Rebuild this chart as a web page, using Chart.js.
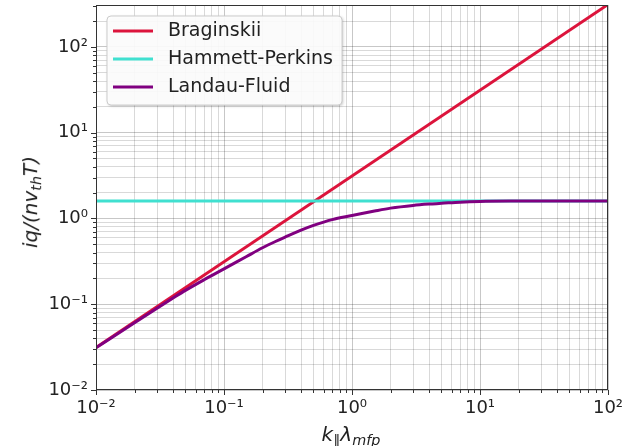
<!DOCTYPE html>
<html lang="en">
<head>
  <meta charset="UTF-8">
  <title>Heat flux closures</title>
  <style>
    body {
      margin: 0;
      background: #fff;
      font-family: 'DejaVu Sans', sans-serif;
    }

    #wrap {
      position: relative;
      width: 628px;
      height: 446px;
    }

    .axis-title {
      position: absolute;
      font-size: 20px;
      font-style: italic;
      color: #222;
      white-space: nowrap;
      line-height: 1;
    }

    .axis-title sub {
      font-size: 72%;
      vertical-align: -0.3em;
    }

    #xTitle {
      left: 351px;
      top: 436px;
      transform: translate(-50%, -50%);
    }

    #yTitle {
      left: 32px;
      top: 202px;
      transform: translate(-50%, -50%) rotate(-90deg);
    }
  </style>
</head>
<body>
  <div id="wrap">
    <canvas id="fluxChart" width="628" height="446"></canvas>
    <div id="xTitle" class="axis-title">k<sub>∥</sub>λ<sub>mfp</sub></div>
    <div id="yTitle" class="axis-title">iq/(nv<sub>th</sub>T)</div>
  </div>

  <script src="https://cdn.jsdelivr.net/npm/chart.js"></script>
  <script>
    // values (k_par * lambda_mfp on x)
    const braginskiiX = [0.01, 100];
    const braginskiiY = [0.0312, 312];

    const hammettX = [0.01, 100];
    const hammettY = [1.6, 1.6];

    const landauX = [0.01, 0.02, 0.03, 0.04, 0.05, 0.07, 0.1, 0.15, 0.2, 0.25, 0.3, 0.4, 0.5, 0.7, 1, 1.5, 2, 3, 4, 5, 7, 10, 20, 50, 100];
    const landauY = [0.031, 0.061, 0.09, 0.118, 0.145, 0.193, 0.258, 0.36, 0.455, 0.535, 0.605, 0.73, 0.83, 0.97, 1.08, 1.22, 1.32, 1.42, 1.47, 1.5, 1.55, 1.58, 1.595, 1.6, 1.6];

    const seriesNames = ['Braginskii', 'Hammett-Perkins', 'Landau-Fluid'];
    const seriesColors = ['#DC143C', '#40E0D0', '#800080'];

    const xRange = [0.01, 100];
    const yRange = [0.01, 308];

    const supMap = { '-': '⁻', '0': '⁰', '1': '¹', '2': '²', '3': '³', '4': '⁴', '5': '⁵', '6': '⁶', '7': '⁷', '8': '⁸', '9': '⁹' };

    function isDecade(v) {
      const e = Math.round(Math.log10(v));
      return Math.abs(v - Math.pow(10, e)) / v < 1e-6;
    }

    function decadeLabel(v) {
      if (!isDecade(v)) return '';
      const e = String(Math.round(Math.log10(v)));
      return '10' + e.split('').map(c => supMap[c]).join('');
    }

    function logTicks(min, max) {
      const out = [];
      for (let e = Math.floor(Math.log10(min)); e <= Math.ceil(Math.log10(max)); e++) {
        for (let m = 1; m <= 9; m++) {
          const v = m * Math.pow(10, e);
          if (v >= min * 0.999 && v <= max * 1.001) out.push({ value: v });
        }
      }
      return out;
    }

    function toPoints(xs, ys) {
      return xs.map((x, i) => ({ x: x, y: ys[i] }));
    }

    const legendBox = {
      id: 'legendBox',
      afterDatasetsDraw(chart) {
        const ctx = chart.ctx;
        ctx.save();
        ctx.shadowColor = 'rgba(0,0,0,0.25)';
        ctx.shadowBlur = 3;
        ctx.shadowOffsetX = 1;
        ctx.shadowOffsetY = 1;
        ctx.beginPath();
        ctx.roundRect(107, 16, 235, 89, 4);
        ctx.fillStyle = 'rgba(255,255,255,0.92)';
        ctx.fill();
        ctx.shadowColor = 'transparent';
        ctx.strokeStyle = '#cccccc';
        ctx.lineWidth = 1;
        ctx.stroke();

        ctx.font = '19px "DejaVu Sans"';
        ctx.textBaseline = 'middle';
        ctx.fillStyle = '#222';
        seriesNames.forEach((name, i) => {
          const y = 31 + i * 28;
          ctx.beginPath();
          ctx.moveTo(113, y);
          ctx.lineTo(153, y);
          ctx.strokeStyle = seriesColors[i];
          ctx.lineWidth = 3;
          ctx.stroke();
          ctx.fillText(name, 168, y);
        });
        ctx.restore();
      }
    };

    const frame = {
      id: 'frame',
      afterDraw(chart) {
        const { ctx, chartArea: a, scales } = chart;
        ctx.save();
        ctx.strokeStyle = '#333';
        ctx.lineWidth = 1;
        ctx.strokeRect(a.left + 0.5, a.top + 0.5, a.right - a.left - 1, a.bottom - a.top - 1);
        ctx.beginPath();
        scales.x.ticks.forEach(t => {
          const px = Math.round(scales.x.getPixelForValue(t.value)) + 0.5;
          const len = isDecade(t.value) ? 5 : 3;
          ctx.moveTo(px, a.bottom);
          ctx.lineTo(px, a.bottom + len);
        });
        scales.y.ticks.forEach(t => {
          const py = Math.round(scales.y.getPixelForValue(t.value)) + 0.5;
          const len = isDecade(t.value) ? 5 : 3;
          ctx.moveTo(a.left, py);
          ctx.lineTo(a.left - len, py);
        });
        ctx.stroke();
        ctx.restore();
      }
    };

    const gridColor = (c) => (c.tick && isDecade(c.tick.value)) ? 'rgba(0,0,0,0.22)' : 'rgba(0,0,0,0.15)';

    const config = {
      type: 'line',
      data: {
        datasets: [
          { label: seriesNames[0], data: toPoints(braginskiiX, braginskiiY), borderColor: seriesColors[0], order: 3 },
          { label: seriesNames[1], data: toPoints(hammettX, hammettY), borderColor: seriesColors[1], order: 2 },
          { label: seriesNames[2], data: toPoints(landauX, landauY), borderColor: seriesColors[2], order: 1, cubicInterpolationMode: 'monotone' }
        ]
      },
      options: {
        responsive: false,
        animation: false,
        layout: { padding: { top: 5, right: 20, left: 0, bottom: 0 } },
        elements: {
          point: { radius: 0 },
          line: { borderWidth: 3, fill: false }
        },
        plugins: {
          legend: { display: false },
          tooltip: { enabled: false }
        },
        scales: {
          x: {
            type: 'logarithmic',
            min: xRange[0],
            max: xRange[1],
            afterBuildTicks: s => { s.ticks = logTicks(xRange[0], xRange[1]); },
            afterFit: s => { s.height = 56; s.paddingLeft = 0; s.paddingRight = 0; },
            grid: { color: gridColor, drawTicks: false },
            border: { display: false },
            ticks: {
              autoSkip: false,
              maxRotation: 0,
              padding: 8,
              color: '#222',
              font: { family: 'DejaVu Sans', size: 18 },
              callback: v => decadeLabel(v)
            }
          },
          y: {
            type: 'logarithmic',
            min: yRange[0],
            max: yRange[1],
            afterBuildTicks: s => { s.ticks = logTicks(yRange[0], yRange[1]); },
            afterFit: s => { s.width = 96; s.paddingTop = 0; s.paddingBottom = 0; },
            grid: { color: gridColor, drawTicks: false },
            border: { display: false },
            ticks: {
              autoSkip: false,
              padding: 8,
              color: '#222',
              font: { family: 'DejaVu Sans', size: 18 },
              callback: v => decadeLabel(v)
            }
          }
        }
      },
      plugins: [legendBox, frame]
    };

    const chart = new Chart(document.getElementById('fluxChart').getContext('2d'), config);
  </script>
</body>
</html>
